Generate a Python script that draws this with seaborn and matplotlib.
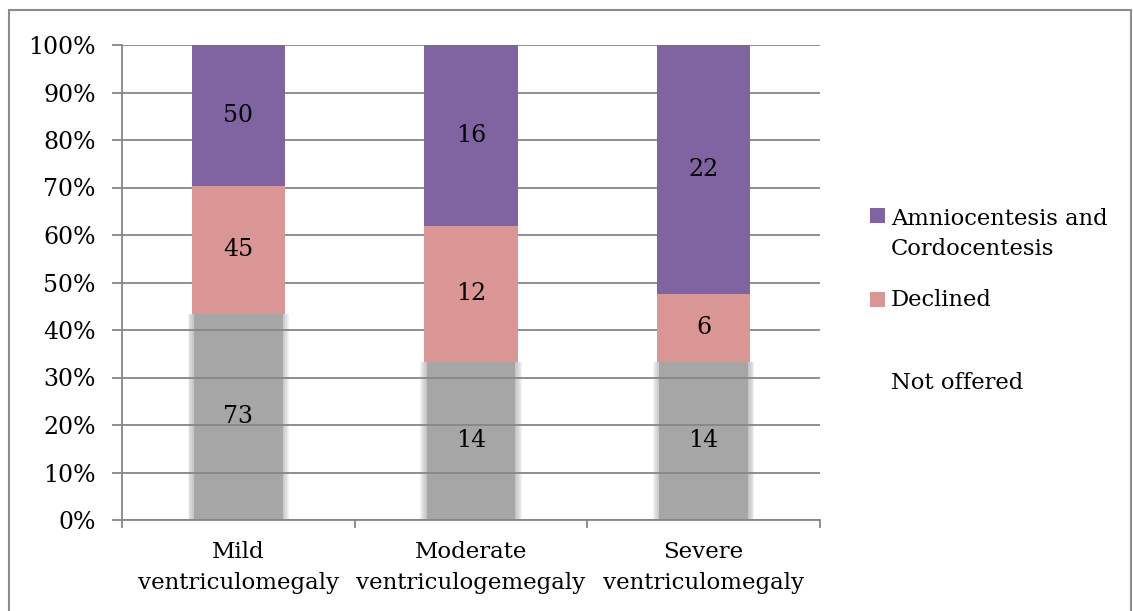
import matplotlib
matplotlib.use("Agg")
import matplotlib.pyplot as plt
from matplotlib.patches import Rectangle
import numpy as np
import pandas as pd
import seaborn as sns

# Counts per ventriculomegaly grade
categories = ["Mild\nventriculomegaly", "Moderate\nventriculogemegaly", "Severe\nventriculomegaly"]
not_offered = [73, 14, 14]
declined = [45, 12, 6]
amnio_cordo = [50, 16, 22]
series_labels = ["Amniocentesis and\nCordocentesis", "Declined", "Not offered"]
y_ticks = [0, 10, 20, 30, 40, 50, 60, 70, 80, 90, 100]

PURPLE = "#8064a2"
PINK = "#d99694"
GREY = "#a6a6a6"
LINE = "#868686"

sns.set_style("white")
plt.rcParams["font.family"] = ["DejaVu Serif"]
plt.rcParams["text.color"] = "black"

W, H = 1133, 611
fig = plt.figure(figsize=(W / 100, H / 100), dpi=100)
ax = fig.add_axes([122 / W, 1 - 520 / H, (820 - 122) / W, (520 - 45) / H])

counts = np.array([not_offered, declined, amnio_cordo], dtype=float)
pct = counts / counts.sum(axis=0) * 100

df = pd.DataFrame({
    "category": categories,
    "not_offered": pct[0],
    "declined": pct[1],
    "amnio": pct[2],
    "base_declined": pct[0],
    "base_amnio": pct[0] + pct[1],
})

bar_w = 0.4
# Soft-edged grey base: stacked translucent halo layers under a solid core
core_w = bar_w - 0.02
for extra in np.linspace(0.056, 0.008, 7):
    sns.barplot(data=df, x="category", y="not_offered", color=GREY, saturation=1,
                width=core_w + extra, errorbar=None, ax=ax, zorder=1,
                linewidth=0, alpha=0.13)
sns.barplot(data=df, x="category", y="not_offered", color=GREY, saturation=1,
            width=core_w, errorbar=None, ax=ax, zorder=1, linewidth=0)

sns.barplot(data=df, x="category", y="declined", bottom=df["base_declined"].values,
            color=PINK, saturation=1, width=bar_w, errorbar=None, ax=ax,
            zorder=2, linewidth=0)
sns.barplot(data=df, x="category", y="amnio", bottom=df["base_amnio"].values,
            color=PURPLE, saturation=1, width=bar_w, errorbar=None, ax=ax,
            zorder=2, linewidth=0)

# Count labels centred in each segment
bottoms = np.vstack([np.zeros(3), pct[0], pct[0] + pct[1]])
for row in range(3):
    for i in range(3):
        ax.text(i, bottoms[row, i] + pct[row, i] / 2, f"{int(counts[row, i])}",
                ha="center", va="center", fontsize=17, color="black", zorder=5)

ax.set_axisbelow("line")
ax.yaxis.grid(True, color=LINE, linewidth=1.3)
ax.xaxis.grid(False)
ax.set_ylim(0, 100)
ax.set_xlim(-0.5, 2.5)
ax.set_yticks(y_ticks)
ax.set_yticklabels([f"{t}%" for t in y_ticks])
ax.set_xticks([-0.5, 0.5, 1.5, 2.5])
ax.set_xticklabels([])
ax.set_xticks([0, 1, 2], minor=True)
ax.set_xticklabels(categories, minor=True)
ax.set_xlabel("")
ax.set_ylabel("")

ax.tick_params(axis="y", left=True, length=7.5, width=1.3, color=LINE,
               labelsize=17, pad=11.5, labelcolor="black")
ax.tick_params(axis="x", which="major", bottom=True, length=6, width=1.3, color=LINE)
ax.tick_params(axis="x", which="minor", bottom=False, length=0, labelsize=16.5,
               pad=15, labelcolor="black")
for lbl in ax.get_xticklabels(minor=True):
    lbl.set_linespacing(1.55)

for side in ["top", "right"]:
    ax.spines[side].set_visible(False)
for side in ["left", "bottom"]:
    ax.spines[side].set_color(LINE)
    ax.spines[side].set_linewidth(1.3)
    ax.spines[side].set_zorder(3)

# Legend block
def px(x, y):
    return x / W, 1 - y / H

sq = 15
for (y_top, color) in [(208, PURPLE), (292, PINK)]:
    x0, y0 = px(870, y_top + sq)
    fig.add_artist(Rectangle((x0, y0), sq / W, sq / H, transform=fig.transFigure,
                             facecolor=color, edgecolor="none"))
fig.text(*px(891, 234), series_labels[0], ha="left", va="center", fontsize=16.3,
         linespacing=1.45, color="black")
fig.text(*px(891, 300), series_labels[1], ha="left", va="center", fontsize=16.3,
         color="black")
fig.text(*px(891, 383), series_labels[2], ha="left", va="center", fontsize=16.3,
         color="black")

# Chart border
fig.add_artist(Rectangle((9 / W, -0.02), (1131 - 9) / W, 1 - 10 / H + 0.02,
                         transform=fig.transFigure, fill=False,
                         edgecolor="#8c8c8c", linewidth=1.5))

fig.savefig("out.png", dpi=100)
